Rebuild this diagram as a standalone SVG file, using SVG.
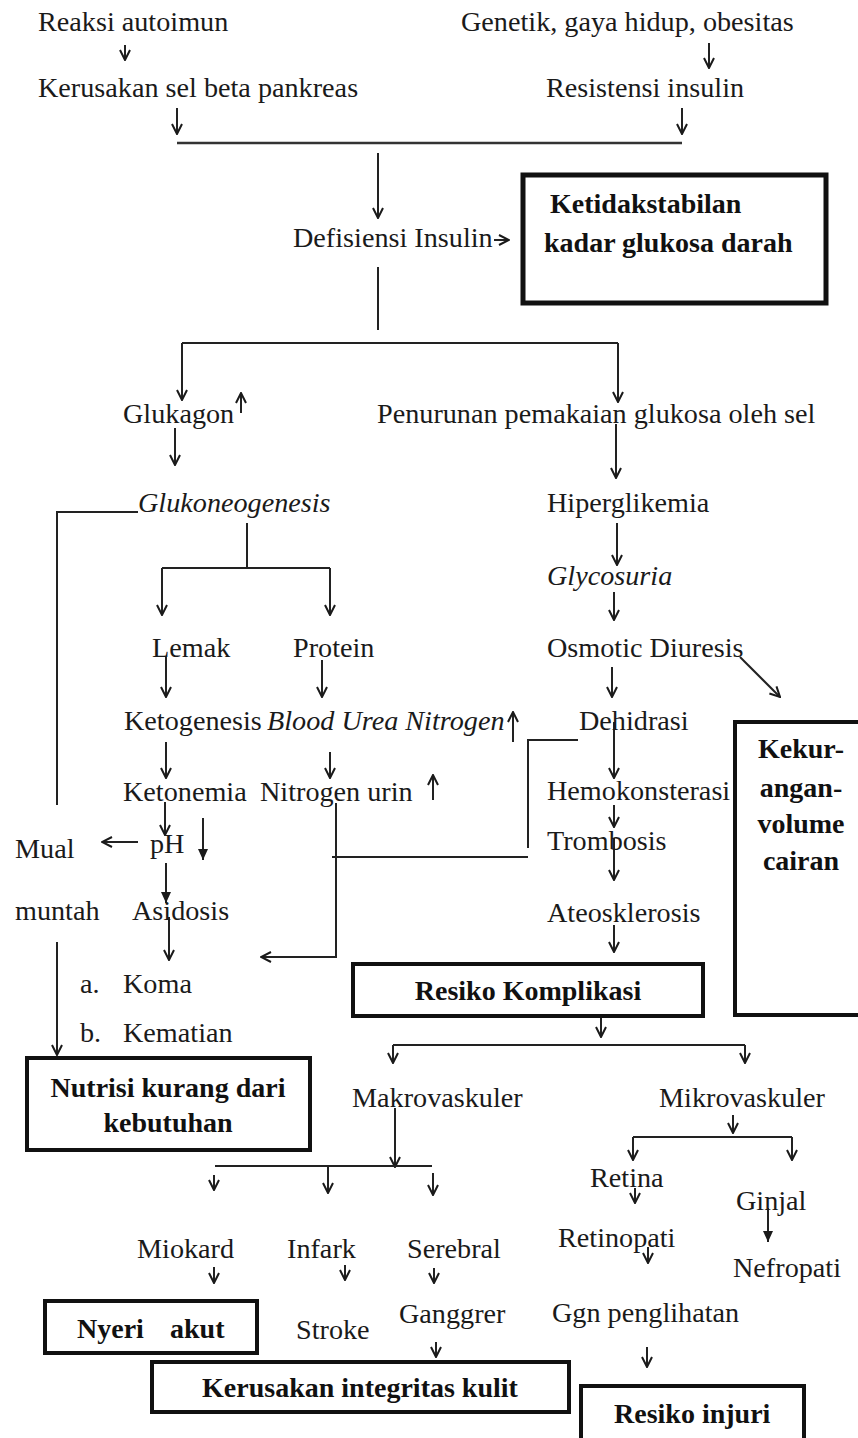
<svg xmlns="http://www.w3.org/2000/svg" width="858" height="1438" viewBox="0 0 858 1438">
<style>
.t{font-family:"Liberation Serif","Times New Roman",serif;font-size:28.2px;fill:#1a1a1a}
.i{font-style:italic}
.b{font-weight:bold;font-size:28px;fill:#111}
.m{text-anchor:middle}
.box{fill:none;stroke:#111;stroke-width:4}
.c{fill:none;stroke:#222;stroke-width:2}
.ca{fill:none;stroke:#222;stroke-width:2;marker-end:url(#a)}
.cf{fill:none;stroke:#222;stroke-width:2;marker-end:url(#f)}
</style>
<defs>
<marker id="a" viewBox="0 0 12 12" refX="11" refY="6" markerWidth="12" markerHeight="12" markerUnits="userSpaceOnUse" orient="auto"><path d="M1,1 L11,6 L1,11" fill="none" stroke="#1a1a1a" stroke-width="2"/></marker>
<marker id="f" viewBox="0 0 12 12" refX="11" refY="6" markerWidth="12" markerHeight="12" markerUnits="userSpaceOnUse" orient="auto"><path d="M0,1 L11,6 L0,11 z" fill="#1a1a1a"/></marker>
</defs>
<rect width="858" height="1438" fill="#fff"/>
<g id="connectors">
<path class="ca" d="M125,45 V60"/>
<path class="ca" d="M709,43 V68"/>
<path class="ca" d="M177,108 V134"/>
<path class="ca" d="M682,108 V134"/>
<path d="M177,143 H682" fill="none" stroke="#333" stroke-width="2.5"/>
<path class="ca" d="M378,153 V218"/>
<path class="ca" d="M494,240 H509"/>
<path class="c" d="M378,267 V330"/>
<path class="c" d="M182,343 H618"/>
<path class="ca" d="M182,343 V400"/>
<path class="ca" d="M618,343 V402"/>
<path class="ca" d="M241,413 V393"/>
<path class="ca" d="M616,424 V478"/>
<path class="ca" d="M175,428 V465"/>
<path class="c" d="M138,512 H57 V805"/>
<path class="c" d="M247,523 V568"/>
<path class="c" d="M162,568 H330"/>
<path class="ca" d="M162,568 V615"/>
<path class="ca" d="M330,568 V615"/>
<path class="ca" d="M166,657 V697"/>
<path class="ca" d="M322,660 V697"/>
<path class="ca" d="M513,742 V712"/>
<path class="ca" d="M166,742 V778"/>
<path class="ca" d="M330,752 V778"/>
<path class="ca" d="M433,800 V775"/>
<path class="ca" d="M165,802 V835"/>
<path class="ca" d="M138,842 H102"/>
<path class="cf" d="M203,818 V860"/>
<path class="cf" d="M166,863 V903"/>
<path class="ca" d="M169,917 V960"/>
<path class="ca" d="M336,803 V957 H261"/>
<path class="c" d="M578,740 H528 V848"/>
<path class="c" d="M528,857 H332"/>
<path class="ca" d="M57,942 V1055"/>
<path class="ca" d="M617,523 V565"/>
<path class="ca" d="M614,592 V620"/>
<path class="ca" d="M612,667 V697"/>
<path class="ca" d="M740,657 L780,697"/>
<path class="ca" d="M614,722 V778"/>
<path class="ca" d="M614,805 V827"/>
<path class="ca" d="M614,838 V880"/>
<path class="ca" d="M614,925 V952"/>
<path class="ca" d="M601,1018 V1037"/>
<path class="c" d="M393,1045 H745"/>
<path class="ca" d="M393,1045 V1063"/>
<path class="ca" d="M745,1045 V1063"/>
<path class="ca" d="M395,1108 V1167"/>
<path class="c" d="M215,1166 H432"/>
<path class="ca" d="M214,1175 V1190"/>
<path class="ca" d="M328,1166 V1193"/>
<path class="ca" d="M433,1173 V1195"/>
<path class="ca" d="M733,1115 V1133"/>
<path class="c" d="M633,1137 H792"/>
<path class="ca" d="M633,1137 V1160"/>
<path class="ca" d="M792,1137 V1160"/>
<path class="ca" d="M635,1188 V1203"/>
<path class="cf" d="M768,1208 V1242"/>
<path class="ca" d="M214,1267 V1283"/>
<path class="ca" d="M345,1265 V1280"/>
<path class="ca" d="M434,1268 V1283"/>
<path class="ca" d="M648,1247 V1263"/>
<path class="ca" d="M436,1342 V1357"/>
<path class="ca" d="M647,1347 V1367"/>
</g>
<g id="n-reaksi"><text class="t" x="38" y="31">Reaksi autoimun</text></g>
<g id="n-genetik"><text class="t" x="461" y="31">Genetik, gaya hidup, obesitas</text></g>
<g id="n-kerusakan-sel"><text class="t" x="38" y="97">Kerusakan sel beta pankreas</text></g>
<g id="n-resistensi"><text class="t" x="546" y="97">Resistensi insulin</text></g>
<g id="n-defisiensi"><text class="t" x="293" y="247">Defisiensi Insulin</text></g>
<g id="n-ketidakstabilan"><rect x="523" y="175" width="303" height="128" fill="none" stroke="#111" stroke-width="5"/><text class="t b" x="550" y="213">Ketidakstabilan</text><text class="t b" x="544" y="252">kadar glukosa darah</text></g>
<g id="n-glukagon"><text class="t" x="123" y="423">Glukagon</text></g>
<g id="n-penurunan"><text class="t" x="377" y="423">Penurunan pemakaian glukosa oleh sel</text></g>
<g id="n-glukoneogenesis"><text class="t i" x="138" y="512">Glukoneogenesis</text></g>
<g id="n-lemak"><text class="t" x="152" y="657">Lemak</text></g>
<g id="n-protein"><text class="t" x="293" y="657">Protein</text></g>
<g id="n-ketogenesis"><text class="t" x="124" y="730">Ketogenesis</text></g>
<g id="n-bun"><text class="t i" x="267" y="730">Blood Urea Nitrogen</text></g>
<g id="n-ketonemia"><text class="t" x="123" y="801">Ketonemia</text></g>
<g id="n-nitrogen-urin"><text class="t" x="260" y="801">Nitrogen urin</text></g>
<g id="n-mual"><text class="t" x="15" y="858">Mual</text></g>
<g id="n-ph"><text class="t" x="150" y="853">pH</text></g>
<g id="n-muntah"><text class="t" x="15" y="920">muntah</text></g>
<g id="n-asidosis"><text class="t" x="132" y="920">Asidosis</text></g>
<g id="n-koma"><text class="t" x="80" y="993">a.</text><text class="t" x="123" y="993">Koma</text></g>
<g id="n-kematian"><text class="t" x="80" y="1042">b.</text><text class="t" x="123" y="1042">Kematian</text></g>
<g id="n-nutrisi"><rect class="box" x="27" y="1058" width="283" height="92"/><text class="t b m" x="168" y="1097">Nutrisi kurang dari</text><text class="t b m" x="168" y="1132">kebutuhan</text></g>
<g id="n-hiperglikemia"><text class="t" x="547" y="512">Hiperglikemia</text></g>
<g id="n-glycosuria"><text class="t i" x="547" y="585">Glycosuria</text></g>
<g id="n-osmotic"><text class="t" x="547" y="657">Osmotic Diuresis</text></g>
<g id="n-dehidrasi"><text class="t" x="579" y="730">Dehidrasi</text></g>
<g id="n-hemokonsterasi"><text class="t" x="547" y="800">Hemokonsterasi</text></g>
<g id="n-trombosis"><text class="t" x="547" y="850">Trombosis</text></g>
<g id="n-ateosklerosis"><text class="t" x="547" y="922">Ateosklerosis</text></g>
<g id="n-kekurangan"><rect class="box" x="735" y="722" width="140" height="293"/><text class="t b m" x="801" y="758">Kekur-</text><text class="t b m" x="801" y="797">angan-</text><text class="t b m" x="801" y="833">volume</text><text class="t b m" x="801" y="870">cairan</text></g>
<g id="n-resiko-komplikasi"><rect class="box" x="353" y="964" width="350" height="52"/><text class="t b m" x="528" y="1000">Resiko Komplikasi</text></g>
<g id="n-makrovaskuler"><text class="t" x="352" y="1107">Makrovaskuler</text></g>
<g id="n-mikrovaskuler"><text class="t" x="659" y="1107">Mikrovaskuler</text></g>
<g id="n-retina"><text class="t" x="590" y="1187">Retina</text></g>
<g id="n-ginjal"><text class="t" x="736" y="1210">Ginjal</text></g>
<g id="n-retinopati"><text class="t" x="558" y="1247">Retinopati</text></g>
<g id="n-nefropati"><text class="t" x="733" y="1277">Nefropati</text></g>
<g id="n-miokard"><text class="t" x="137" y="1258">Miokard</text></g>
<g id="n-infark"><text class="t" x="287" y="1258">Infark</text></g>
<g id="n-serebral"><text class="t" x="407" y="1258">Serebral</text></g>
<g id="n-nyeri"><rect class="box" x="45" y="1301" width="212" height="52"/><text class="t b" x="77" y="1338">Nyeri<tspan x="170">akut</tspan></text></g>
<g id="n-stroke"><text class="t" x="296" y="1339">Stroke</text></g>
<g id="n-ganggrer"><text class="t" x="399" y="1323">Ganggrer</text></g>
<g id="n-ggn"><text class="t" x="552" y="1322">Ggn penglihatan</text></g>
<g id="n-kerusakan-kulit"><rect class="box" x="152" y="1362" width="417" height="50"/><text class="t b m" x="360" y="1397">Kerusakan integritas kulit</text></g>
<g id="n-resiko-injuri"><rect class="box" x="581" y="1386" width="223" height="70"/><text class="t b" x="614" y="1423">Resiko injuri</text></g>
</svg>
